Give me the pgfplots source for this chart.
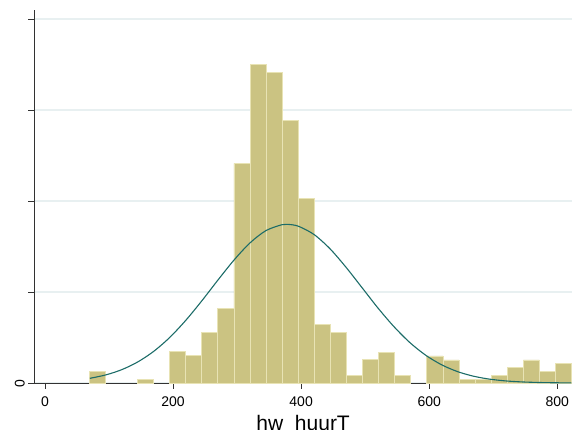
\documentclass[border=0pt]{standalone}
\usepackage{pgfplots}
\pgfplotsset{compat=1.18}
\usepackage{fontspec}
\setmainfont{Liberation Sans}
\definecolor{barfill}{RGB}{203,195,130}
\definecolor{baredge}{RGB}{232,227,180}
\definecolor{curve}{RGB}{28,108,104}
\definecolor{gridc}{RGB}{232,240,241}
\definecolor{axc}{RGB}{50,50,50}
\begin{document}
\begin{tikzpicture}
% fixed page frame; the axis box sits with its lower left corner at the origin
\useasboundingbox (-34.3bp,-47bp) rectangle (542.7bp,383bp);
\begin{axis}[
  at={(0,0)}, anchor=south west,
  scale only axis,
  width=537.7bp, height=373bp,
  xmin=-16.7, xmax=823,
  ymin=0, ymax=4.1,
  axis x line*=bottom, axis y line*=left,
  axis line style={axc, line width=0.8bp},
  tick style={axc, line width=0.8bp},
  tick align=outside,
  major tick length=6bp,
  xtick={0,200,400,600,800},
  ytick={0,1,2,3,4},
  yticklabels={0,,,,},
  yticklabel style={rotate=90, anchor=south, xshift=-1bp, font=\fontsize{14bp}{16bp}\selectfont},
  xticklabel style={font=\fontsize{14bp}{16bp}\selectfont, yshift=-4bp},
  /pgf/number format/assume math mode=true,
  ymajorgrids=true,
  grid style={gridc, line width=1.3bp},
  xlabel={hw\_huurT},
  xlabel style={font=\fontsize{21bp}{24bp}\selectfont, yshift=-2bp},
  clip=false,
]
% histogram, bin width about 25.1
\addplot[ybar interval, fill=barfill, draw=baredge, line width=0.8bp] coordinates {
  (69.2,0.124) (94.3,0)};
\addplot[ybar interval, fill=barfill, draw=baredge, line width=0.8bp] coordinates {
  (144.5,0.04) (169.6,0)};
\addplot[ybar interval, fill=barfill, draw=baredge, line width=0.8bp] coordinates {
  (194.7,0.344) (219.8,0.300) (244.9,0.557) (270.0,0.820) (295.1,2.414)
  (320.2,3.500) (345.3,3.410) (370.4,2.890) (395.5,2.030) (420.6,0.645)
  (445.7,0.557) (470.8,0.080) (495.9,0.256) (521.0,0.340) (546.1,0.080)
  (571.2,0)};
\addplot[ybar interval, fill=barfill, draw=baredge, line width=0.8bp] coordinates {
  (596.3,0.297) (621.4,0.253) (646.5,0.040) (671.6,0.040) (696.7,0.085)
  (721.8,0.168) (746.9,0.253) (772.0,0.124) (797.1,0.212) (822.2,0)};
% normal density overlay
\addplot[curve, line width=1.1bp, smooth, mark=none] coordinates {
  (70,0.0514) (95,0.0890) (120,0.147) (145,0.232) (170,0.349) (195,0.502)
  (220,0.690) (245,0.904) (270,1.131) (295,1.350) (320,1.539) (345,1.675)
  (370,1.740) (378,1.744) (395,1.725) (420,1.633) (445,1.476) (470,1.273)
  (495,1.049) (520,0.824) (545,0.619) (570,0.443) (595,0.303) (620,0.198)
  (645,0.1234) (670,0.0734) (695,0.0417) (720,0.0226) (745,0.0117)
  (770,0.0058) (795,0.0027) (822,0.0012)};
\end{axis}
\end{tikzpicture}
\end{document}
